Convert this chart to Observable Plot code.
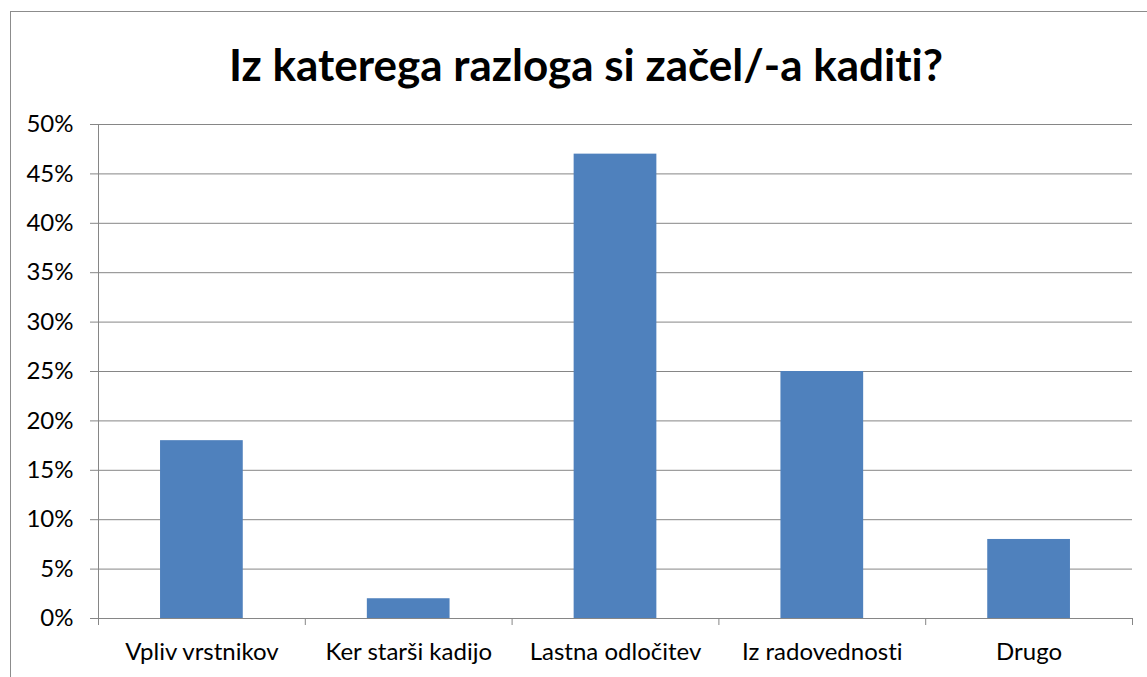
<!DOCTYPE html>
<html>
<head>
<meta charset="utf-8">
<script src="https://cdn.jsdelivr.net/npm/d3@7"></script>
<script src="https://cdn.jsdelivr.net/npm/@observablehq/plot@0.6"></script>
<style>
  html, body { margin: 0; padding: 0; background: #fff; }
  #wrap { position: relative; width: 1147px; height: 677px; overflow: hidden; font-family: Lato, sans-serif; font-variant-ligatures: none; }
  #frame { position: absolute; left: 10px; top: 11px; width: 1160px; height: 700px; border: 1px solid #8c8c8c; box-sizing: border-box; }
  #title { position: absolute; left: 6px; top: 36px; width: 1160px; text-align: center; font-family: Lato, sans-serif; font-weight: 700; font-size: 44px; line-height: 56px; color: #000; font-variant-ligatures: none; }
  #chart { position: absolute; left: 0; top: 100px; }
  #chart text { font-variant-ligatures: none; }
</style>
</head>
<body>
<div id="wrap">
  <div id="frame"></div>
  <div id="title">Iz katerega razloga si začel/-a kaditi?</div>
  <div id="chart"></div>
</div>
<script>
const categories = ["Vpliv vrstnikov", "Ker starši kadijo", "Lastna odločitev", "Iz radovednosti", "Drugo"];
const values = [0.18, 0.02, 0.47, 0.25, 0.08];
const yTicks = [0, 0.05, 0.10, 0.15, 0.20, 0.25, 0.30, 0.35, 0.40, 0.45, 0.50];

const data = categories.map((name, i) => ({name, value: values[i], i}));
const grey = "#868686";

const plot = Plot.plot({
  width: 1147,
  height: 577,
  marginTop: 24,
  marginBottom: 59,
  marginLeft: 98,
  marginRight: 15,
  style: {fontFamily: "Lato, sans-serif", fontSize: "24px", color: "#000", background: "transparent", overflow: "visible"},
  x: {domain: [0, categories.length], axis: null},
  y: {domain: [0, 0.5], axis: null},
  marks: [
    Plot.gridY(yTicks, {stroke: grey, strokeOpacity: 1, strokeWidth: 1}),
    Plot.rectY(data, {x1: d => d.i + 0.3, x2: d => d.i + 0.7, y1: 0, y2: "value", fill: "#4F81BD"}),
    Plot.axisY({ticks: yTicks, tickFormat: d => Math.round(d * 100) + "%", tickSize: 8, tickPadding: 17, stroke: grey, fontSize: 24, fill: "#000", label: null}),
    Plot.ruleX([0], {stroke: grey}),
    Plot.ruleY([0], {stroke: grey}),
    Plot.axisX({ticks: d3.range(categories.length + 1), tickFormat: () => "", tickSize: 7, stroke: grey, label: null}),
    Plot.axisX({ticks: data.map(d => d.i + 0.5), tickFormat: (t) => categories[Math.floor(t)], tickSize: 0, tickPadding: 24, fontSize: 24, fill: "#000", label: null})
  ]
});
document.getElementById("chart").appendChild(plot);
</script>
</body>
</html>
